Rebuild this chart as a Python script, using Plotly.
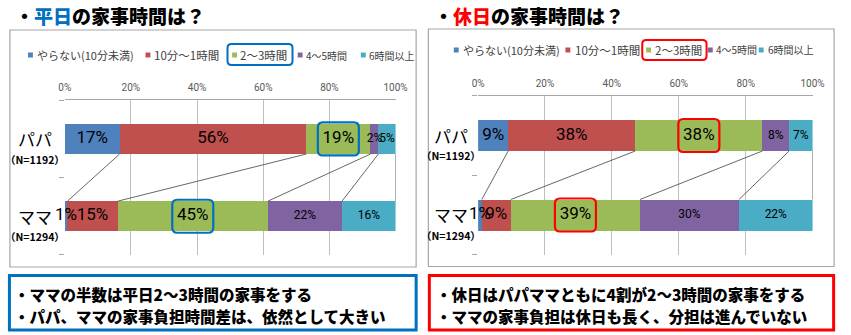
import numpy as np
import plotly.graph_objects as go

# ---- data -------------------------------------------------------------
series_names = ["やらない(10分未満)", "10分～1時間", "2～3時間", "4～5時間", "6時間以上"]
series_colors = ["#4F81BD", "#C0504D", "#9BBB59", "#8064A2", "#4BACC6"]
groups = ["パパ", "ママ"]
group_n = ["（N=1192）", "（N=1294）"]

# share of respondents (%) per housework-time band, weekday
weekday_papa = [16.6, 56.4, 19.4, 2.4, 5.2]
weekday_mama = [0.8, 15.2, 45.4, 22.4, 16.2]
# holiday
holiday_papa = [9, 38, 38, 8, 7]
holiday_mama = [1.1, 8.7, 38.6, 29.6, 22.0]

x_ticks = [0, 20, 40, 60, 80, 100]
x_tick_labels = ["0%", "20%", "40%", "60%", "80%", "100%"]

weekday_title = ("平日", "の家事時間は？")
holiday_title = ("休日", "の家事時間は？")
weekday_notes = ["・ママの半数は平日2～3時間の家事をする",
                 "・パパ、ママの家事負担時間差は、依然として大きい"]
holiday_notes = ["・休日はパパママともに4割が2～3時間の家事をする",
                 "・ママの家事負担は休日も長く、分担は進んでいない"]

highlight_series = 2  # the "2～3時間" band is emphasised

# ---- page geometry (pixels) -------------------------------------------
W, H = 851, 335
JP = "Noto Sans CJK JP"
NUM = "Roboto, Liberation Sans, sans-serif"
BLUE = "#0070C0"
RED = "#FF0000"
BAR_W = 0.39
group_pos = [1, 0]


def fx(x):
    return x / W


def fy(y):
    return 1 - y / H


panels = [
    dict(xa="x", ya="y", papa=weekday_papa, mama=weekday_mama,
         plot_x=(60, 398), plot_y=(100.3, 254.9),
         frame=(4, 30, 419, 267), accent=BLUE, title=weekday_title, title_x=7,
         leg_y=55, leg_mark=[25, 145, 233.5, 300.5, 365],
         leg_text=[30, 149, 237.5, 304, 369], leg_box=(227, 44, 292, 65),
         label_x=30, notes=weekday_notes, note_x=6,
         note_box=(3.5, 275.5, 419, 330)),
    dict(xa="x2", ya="y2", papa=holiday_papa, mama=holiday_mama,
         plot_x=(482.3, 824), plot_y=(95.75, 254.75),
         frame=(431.5, 29, 846, 266.5), accent=RED, title=holiday_title, title_x=435,
         leg_y=50, leg_mark=[460, 574, 656.5, 719.5, 771.5],
         leg_text=[465, 579, 661, 723.5, 776], leg_box=(650.7, 40, 715, 60),
         label_x=455, notes=holiday_notes, note_x=437,
         note_box=(432.5, 275.5, 845.5, 330)),
]

legend_sizes = [11, 11.5, 11.5, 10, 10]
label_sizes = [17, 17, 17, 12, 12]


def rounded_path(hw, hh, r):
    return (f"M {-hw + r},{-hh} L {hw - r},{-hh} Q {hw},{-hh} {hw},{-hh + r} "
            f"L {hw},{hh - r} Q {hw},{hh} {hw - r},{hh} L {-hw + r},{hh} "
            f"Q {-hw},{hh} {-hw},{hh - r} L {-hw},{-hh + r} Q {-hw},{-hh} {-hw + r},{-hh} Z")


fig = go.Figure()
shapes = []
annotations = []
layout_axes = {}
label_traces = []

for idx, p in enumerate(panels):
    xa, ya = p["xa"], p["ya"]
    values = np.array([p["papa"], p["mama"]], dtype=float)  # rows follow groups
    cum = np.cumsum(values, axis=1)
    centres = cum - values / 2

    # stacked bars
    for i, name in enumerate(series_names):
        fig.add_trace(go.Bar(
            x=values[:, i], y=group_pos, orientation="h", name=name,
            xaxis=xa, yaxis=ya, width=BAR_W,
            marker=dict(color=series_colors[i], line=dict(width=0)),
            hoverinfo="skip", showlegend=False,
        ))

    # value labels, drawn above every segment
    lx, ly, lt, ls = [], [], [], []
    for g in range(len(groups)):
        for i in range(len(series_names)):
            lx.append(centres[g, i])
            ly.append(group_pos[g])
            lt.append(f"{values[g, i]:.0f}%")
            ls.append(label_sizes[i])
    label_traces.append(go.Scatter(
        x=lx, y=ly, text=lt, mode="text", textposition="middle center",
        textfont=dict(family=NUM, size=ls, color="#000000"),
        xaxis=xa, yaxis=ya, cliponaxis=False, hoverinfo="skip", showlegend=False,
    ))

    # series lines linking segment ends of the two bars
    for k in range(len(series_names)):
        shapes.append(dict(type="line", xref=xa, yref=ya,
                           x0=cum[0, k], y0=group_pos[0] - BAR_W / 2,
                           x1=cum[1, k], y1=group_pos[1] + BAR_W / 2,
                           line=dict(color="#404040", width=0.8)))

    # rounded frames around the emphasised labels
    for g in range(len(groups)):
        shapes.append(dict(type="path", xref=xa, yref=ya,
                           xsizemode="pixel", ysizemode="pixel",
                           xanchor=centres[g, highlight_series], yanchor=group_pos[g],
                           path=rounded_path(20.5, 16.5, 5),
                           line=dict(color=p["accent"], width=2.2)))

    # axes
    xkey = "xaxis" if xa == "x" else "xaxis2"
    ykey = "yaxis" if ya == "y" else "yaxis2"
    layout_axes[xkey] = dict(
        domain=[fx(p["plot_x"][0]), fx(p["plot_x"][1])], anchor=ya,
        range=[0, 100], side="top", tickmode="array",
        tickvals=x_ticks, ticktext=x_tick_labels,
        showgrid=True, gridcolor="#BFBFBF", gridwidth=1, zeroline=False,
        showline=True, linecolor="#A6A6A6", linewidth=1, ticks="",
        tickfont=dict(family=NUM, size=10, color="#595959"),
        ticklabelstandoff=4, fixedrange=True,
    )
    layout_axes[ykey] = dict(
        domain=[fy(p["plot_y"][1]), fy(p["plot_y"][0])], anchor=xa,
        range=[-0.5, 1.5], tickvals=[-0.5, 0.5, 1.5], ticks="outside",
        ticklen=5, tickcolor="#A6A6A6", showticklabels=False,
        showgrid=False, zeroline=False, showline=False, fixedrange=True,
    )

    # chart frame
    fx0, fy0, fx1, fy1 = p["frame"]
    shapes.append(dict(type="rect", xref="paper", yref="paper", layer="below",
                       x0=fx(fx0), y0=fy(fy1), x1=fx(fx1), y1=fy(fy0),
                       line=dict(color="#A6A6A6", width=1.2)))

    # title
    hl, rest = p["title"]
    annotations.append(dict(
        xref="paper", yref="paper", x=fx(p["title_x"]), y=fy(15),
        xanchor="left", yanchor="middle", showarrow=False,
        text=f"・<span style='color:{p['accent']}'>{hl}</span>{rest}",
        font=dict(family=JP, size=19, color="#000000", weight=900),
    ))

    # legend
    for i, name in enumerate(series_names):
        mx = p["leg_mark"][i]
        shapes.append(dict(type="rect", xref="paper", yref="paper",
                           x0=fx(mx - 2.5), x1=fx(mx + 2.5),
                           y0=fy(p["leg_y"] + 2.5), y1=fy(p["leg_y"] - 2.5),
                           fillcolor=series_colors[i], line=dict(width=0)))
        annotations.append(dict(
            xref="paper", yref="paper", x=fx(p["leg_text"][i]), y=fy(p["leg_y"]),
            xanchor="left", yanchor="middle", showarrow=False, text=name,
            font=dict(family=JP, size=legend_sizes[i], color="#404040"),
        ))
    bx0, by0, bx1, by1 = p["leg_box"]
    shapes.append(dict(type="path", xref="paper", yref="paper",
                       xsizemode="pixel", ysizemode="pixel",
                       xanchor=fx((bx0 + bx1) / 2), yanchor=fy((by0 + by1) / 2),
                       path=rounded_path((bx1 - bx0) / 2, (by1 - by0) / 2, 4),
                       line=dict(color=p["accent"], width=2)))

    # category labels
    for g, grp in enumerate(groups):
        annotations.append(dict(
            xref="paper", yref=ya, x=fx(p["label_x"]), y=group_pos[g],
            xanchor="center", yanchor="middle", showarrow=False, text=grp,
            font=dict(family=JP, size=17, color="#000000"),
        ))
        annotations.append(dict(
            xref="paper", yref=ya, x=fx(p["label_x"]), y=group_pos[g], yshift=-20.5,
            xanchor="center", yanchor="middle", showarrow=False, text=group_n[g],
            font=dict(family=JP, size=10.5, color="#000000", weight="bold"),
        ))

    # summary box
    nx0, ny0, nx1, ny1 = p["note_box"]
    shapes.append(dict(type="rect", xref="paper", yref="paper",
                       x0=fx(nx0), y0=fy(ny1), x1=fx(nx1), y1=fy(ny0),
                       line=dict(color=p["accent"], width=3)))
    for j, line in enumerate(p["notes"]):
        annotations.append(dict(
            xref="paper", yref="paper", x=fx(p["note_x"]), y=fy(293.5 + 22 * j),
            xanchor="left", yanchor="middle", showarrow=False, text=line,
            font=dict(family=JP, size=15.5, color="#000000", weight=900),
        ))

for tr in label_traces:
    fig.add_trace(tr)

fig.update_layout(
    width=W, height=H, margin=dict(l=0, r=0, t=0, b=0),
    paper_bgcolor="#FFFFFF", plot_bgcolor="rgba(0,0,0,0)",
    barmode="stack", showlegend=False, font=dict(family=JP),
    shapes=shapes, annotations=annotations, **layout_axes,
)

fig.write_html("out.html")
